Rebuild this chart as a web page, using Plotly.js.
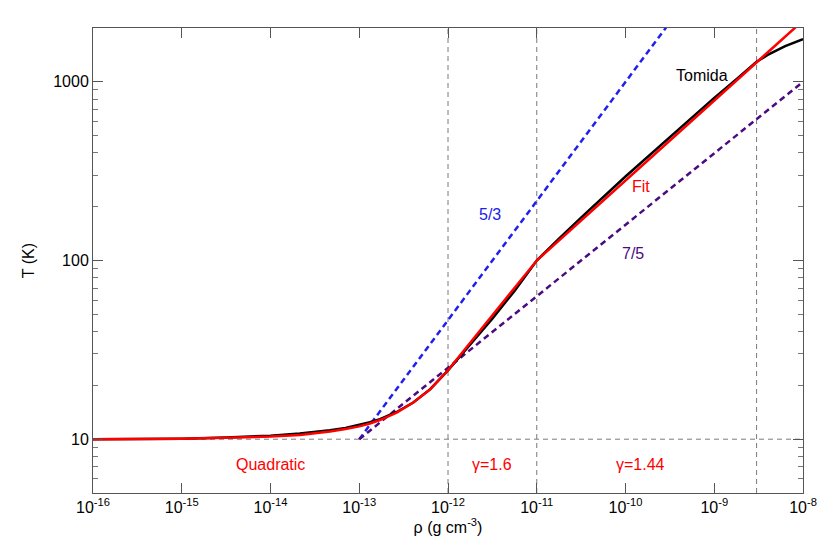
<!DOCTYPE html>
<html>
<head>
<meta charset="utf-8">
<script src="https://cdn.plot.ly/plotly-3.0.1.min.js"></script>
<style>html,body{margin:0;padding:0;background:#fff;}#chart{width:830px;height:553px;}</style>
</head>
<body>
<div id="chart"></div>
<script>
// Tomida curve (density g cm^-3, temperature K)
const tomidaRho = [1e-16, 1e-15, 3.16e-15, 1e-14, 2.14e-14, 3.16e-14, 4.68e-14, 7e-14, 1e-13, 1.32e-13, 1.71e-13, 2.64e-13, 4.06e-13, 6.31e-13, 1e-12, 3.16e-12, 5.62e-12, 1e-11, 1.78e-11, 3.16e-11, 1e-10, 3.16e-10, 1e-9, 1.78e-9, 3e-9, 4e-9, 5e-9, 6.3e-9, 1e-8];
const tomidaT   = [10.0, 10.07, 10.23, 10.47, 10.76, 10.97, 11.22, 11.55, 12.0, 12.45, 12.95, 14.2, 16.03, 19.05, 24.3, 47.3, 67.6, 100, 132.4, 173.8, 295, 490, 813, 1035, 1294, 1413, 1496, 1585, 1734];

// Piecewise fit
const fitRho = [1e-16, 1e-15, 3.16e-15, 1e-14, 2.14e-14, 3.16e-14, 4.68e-14, 7e-14, 1e-13, 1.32e-13, 1.71e-13, 2.64e-13, 4.06e-13, 6.31e-13, 1e-12, 1e-11, 3e-9, 1e-8];
const fitT   = [10.0, 10.05, 10.19, 10.35, 10.57, 10.76, 11.04, 11.4, 11.8, 12.25, 12.8, 14.1, 16.03, 19.0, 24.3, 100, 1294, 2200];

// Adiabatic reference slopes
const g53Rho = [1e-13, 3.5e-10];
const g53T   = [10, 2300];
const g75Rho = [1e-13, 1e-8];
const g75T   = [10, 1000];

// Regime boundaries
const boundaryRho = [1e-12, 1e-11, 3e-9];
const floorT = 10;

const xTickVals = [1e-16,1e-15,1e-14,1e-13,1e-12,1e-11,1e-10,1e-9,1e-8];
const xTickText = ['10<sup>-16</sup>','10<sup>-15</sup>','10<sup>-14</sup>','10<sup>-13</sup>','10<sup>-12</sup>','10<sup>-11</sup>','10<sup>-10</sup>','10<sup>-9</sup>','10<sup>-8</sup>'];
const yTickVals = [10, 100, 1000];
const yTickText = ['10', '100', '1000'];
const yMinor = [6,7,8,9,20,30,40,50,60,70,80,90,200,300,400,500,600,700,800,900,2000];

const xRange = [1e-16, 1e-8];
const yRange = [5, 2000];

const refStyle = {color: '#7a7a7a', width: 1, dash: '5px,4px'};
const traces = [];
boundaryRho.forEach(r => traces.push({x: [r, r], y: yRange, mode: 'lines', line: refStyle, hoverinfo: 'skip', showlegend: false}));
traces.push({x: xRange, y: [floorT, floorT], mode: 'lines', line: refStyle, showlegend: false});
traces.push({x: g53Rho, y: g53T, mode: 'lines', line: {color: '#2020ee', width: 2.5, dash: '6px,4px'}, showlegend: false});
traces.push({x: g75Rho, y: g75T, mode: 'lines', line: {color: '#4b0a82', width: 2.5, dash: '6px,4px'}, showlegend: false});
traces.push({x: tomidaRho, y: tomidaT, mode: 'lines', line: {color: '#000000', width: 2.5}, showlegend: false});
traces.push({x: fitRho, y: fitT, mode: 'lines', line: {color: '#ff0000', width: 2.5}, showlegend: false});

const L = Math.log10;
function ann(text, rho, T, color) {
  return {x: L(rho), y: L(T), xref: 'x', yref: 'y', text: text, showarrow: false,
          font: {color: color, size: 16, family: 'Liberation Sans, Arial, sans-serif'}};
}
const annotations = [
  ann('5/3', 2.97e-12, 181, '#2020ee'),
  ann('7/5', 1.22e-10, 109, '#4b0a82'),
  ann('Tomida', 7.28e-10, 1081, '#000000'),
  ann('Fit', 1.5e-10, 259, '#ff0000'),
  ann('Quadratic', 1.01e-14, 7.24, '#ff0000'),
  ann('γ=1.6', 3.13e-12, 7.24, '#ff0000'),
  ann('γ=1.44', 1.46e-10, 7.24, '#ff0000')
];

const axisFont = {family: 'Liberation Sans, Arial, sans-serif', size: 16, color: '#000'};
const layout = {
  width: 830, height: 553,
  margin: {l: 93, r: 27, t: 28, b: 60},
  paper_bgcolor: '#fff', plot_bgcolor: '#fff',
  showlegend: false,
  font: axisFont,
  xaxis: {
    type: 'log', range: [L(xRange[0]), L(xRange[1])],
    tickvals: xTickVals, ticktext: xTickText,
    ticks: 'inside', ticklen: 10, tickcolor: '#555', tickwidth: 1,
    showline: true, linecolor: '#555', linewidth: 1, mirror: 'allticks',
    showgrid: false, zeroline: false, tickfont: axisFont,
    title: {text: 'ρ (g cm<sup>-3</sup>)', font: axisFont, standoff: 4}
  },
  yaxis: {
    type: 'log', range: [L(yRange[0]), L(yRange[1])],
    tickvals: yTickVals, ticktext: yTickText,
    ticks: 'inside', ticklen: 10, tickcolor: '#555', tickwidth: 1,
    minor: {tickvals: yMinor, ticks: 'inside', ticklen: 5, tickcolor: '#777', showgrid: false},
    showline: true, linecolor: '#555', linewidth: 1, mirror: 'allticks',
    showgrid: false, zeroline: false, tickfont: axisFont,
    title: {text: 'T (K)', font: axisFont, standoff: 14}
  },
  annotations: annotations
};

Plotly.newPlot('chart', traces, layout, {displayModeBar: false, staticPlot: true});
</script>
</body>
</html>
